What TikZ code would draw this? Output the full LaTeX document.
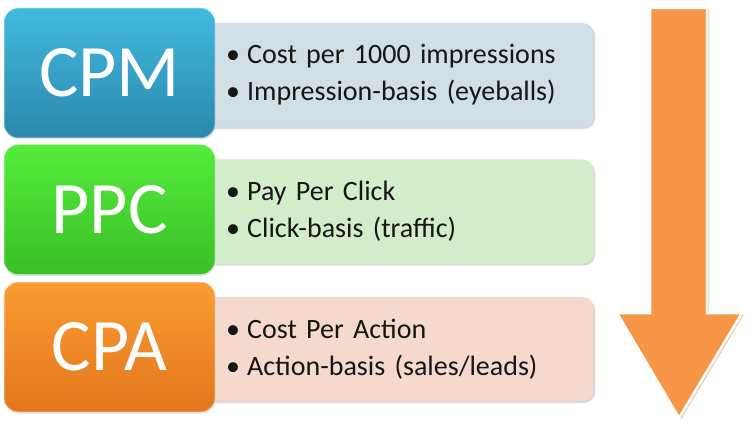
\documentclass[tikz,border=0pt]{standalone}
\usepackage{fontspec}
\setmainfont{Carlito}[WordSpace=0.85]
\usepackage{xcolor}
\usetikzlibrary{positioning,shadows,backgrounds}
\definecolor{cpmTop}{HTML}{41BADF}
\definecolor{cpmBot}{HTML}{2B88AC}
\definecolor{cpmLight}{HTML}{CFDFE5}
\definecolor{ppcTop}{HTML}{55EC3C}
\definecolor{ppcBot}{HTML}{3ABF26}
\definecolor{ppcLight}{HTML}{D3EDCB}
\definecolor{cpaTop}{HTML}{FA9D32}
\definecolor{cpaBot}{HTML}{E3761C}
\definecolor{cpaLight}{HTML}{F4D9CC}
\definecolor{arrowFill}{HTML}{F79646}
\definecolor{arrowShade}{HTML}{EDC7A6}
\definecolor{ink}{HTML}{161616}
\newcommand{\bul}{\makebox[21pt][l]{\textbullet}}
\newcommand{\arrowpath}{(650,8) -- (707,8) -- (707,313) -- (742,313)
  -- (679,418) -- (617,313) -- (650,313) -- cycle}

\begin{document}
\begin{tikzpicture}[x=1pt, y=-1pt,
  tag/.style={rounded corners=14pt, minimum width=211pt, minimum height=130pt,
    inner sep=0pt, text=white, font=\fontsize{74}{80}\selectfont,
    draw=white, draw opacity=0.45, line width=1pt,
    drop shadow={shadow xshift=0.5pt, shadow yshift=-1.5pt, opacity=0.25}},
  info/.style={rounded corners=11pt, minimum width=390pt, minimum height=104pt,
    text width=345pt, inner xsep=22.5pt, align=left, text=ink,
    font=\fontsize{28}{37}\selectfont,
    drop shadow={shadow xshift=1.5pt, shadow yshift=-2pt, opacity=0.3}},
]
  \useasboundingbox (0,0) rectangle (750,433);

  \node[tag, top color=cpmTop, bottom color=cpmBot] (cpm) at (109.5,73) {CPM};
  \node[tag, top color=ppcTop, bottom color=ppcBot] (ppc) at (109.5,209.5) {PPC};
  \node[tag, top color=cpaTop, bottom color=cpaBot] (cpa) at (109.5,347) {CPA};

  \begin{scope}[on background layer]
    \node[info, fill=cpmLight, right=-12pt of cpm, yshift=-2pt] (cpmInfo)
      {\bul Cost per 1000 impressions\\\bul Impression-basis (eyeballs)};
    \node[info, fill=ppcLight, right=-12pt of ppc, yshift=-2pt] (ppcInfo)
      {\bul Pay Per Click\\\bul Click-basis (traffic)};
    \node[info, fill=cpaLight, right=-12pt of cpa, yshift=-2pt] (cpaInfo)
      {\bul Cost Per Action\\\bul Action-basis (sales/leads)};
  \end{scope}

  % big arrow on the right
  \fill[arrowShade, shift={(2,1.5)}] \arrowpath;
  \draw[white, line width=2.5pt, fill=arrowFill, line join=miter] \arrowpath;
\end{tikzpicture}
\end{document}
